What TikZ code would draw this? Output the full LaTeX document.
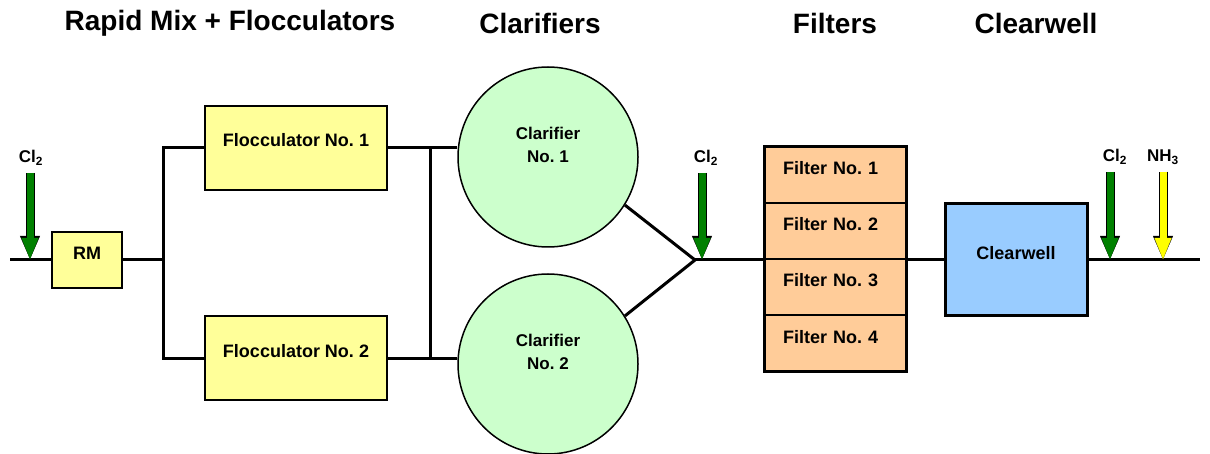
\documentclass[tikz,border=0pt]{standalone}
\usepackage{fontspec}
\setmainfont{Liberation Sans}
\frenchspacing
\usetikzlibrary{positioning,arrows.meta}
\definecolor{rmyellow}{RGB}{255,255,153}
\definecolor{clargreen}{RGB}{204,255,204}
\definecolor{filtorange}{RGB}{255,204,153}
\definecolor{wellblue}{RGB}{153,204,255}
\definecolor{clgreen}{RGB}{0,128,0}
\definecolor{nhyellow}{RGB}{255,255,0}
\tikzset{
  unit/.style={draw, line width=2pt, font=\fontsize{18}{21}\selectfont\bfseries,
    text height=12pt, text depth=12pt, inner sep=0pt},
  cell/.style={unit, line width=1.2pt, fill=filtorange, minimum width=142pt,
    minimum height=56pt, text width=104pt, outer sep=0pt},
  heading/.style={font=\fontsize{28}{32}\selectfont\bfseries},
  chem/.style={font=\fontsize{17}{20}\selectfont\bfseries},
  pipe/.style={line width=3pt},
  dose/.style={line width=7pt, draw=#1, shorten <=4pt,
    -{Triangle[width=17pt,length=21pt,line width=0.1pt]},
    preaction={draw=black, line width=9pt, shorten <=4pt,
      -{Triangle[width=20pt,length=23pt,line width=0.1pt]}}}
}
\begin{document}
\begin{tikzpicture}[x=1pt,y=-1pt]
  \useasboundingbox (0,0) rectangle (1210,454);
  % headings
  \node[heading] (hmix) at (230,23) {Rapid Mix + Flocculators};
  \node[heading] (hclar) at (540,23) {Clarifiers};
  \node[heading] (hfilt) at (835,23) {Filters};
  \node[heading] (hwell) at (1036,23) {Clearwell};
  % rapid mix and two flocculators
  \node[unit, fill=rmyellow, minimum width=70pt, minimum height=56pt] (rm) at (87,260) {RM};
  \node[unit, fill=rmyellow, minimum width=182pt, minimum height=84pt, text depth=14pt] (floc1) at (296,148) {Flocculator No. 1};
  \node[unit, fill=rmyellow, minimum width=182pt, minimum height=84pt, text depth=14pt] (floc2) at (296,358) {Flocculator No. 2};
  % two clarifiers
  \node[circle, draw, line width=1.5pt, fill=clargreen, minimum size=180pt,
    label={[chem, align=center, yshift=12pt]center:Clarifier\\[3pt]No. 1}] (clar1) at (548,157) {};
  \node[circle, draw, line width=1.5pt, fill=clargreen, minimum size=180pt,
    label={[chem, align=center, yshift=12pt]center:Clarifier\\[3pt]No. 2}] (clar2) at (548,364) {};
  % filter stack
  \node[cell] (filt1) at (835,175) {Filter No. 1};
  \node[cell, below=0pt of filt1] (filt2) {Filter No. 2};
  \node[cell, below=0pt of filt2] (filt3) {Filter No. 3};
  \node[cell, below=0pt of filt3] (filt4) {Filter No. 4};
  \draw[line width=3pt] (filt1.north west) rectangle (filt4.south east);
  % clearwell
  \node[unit, line width=3pt, fill=wellblue, minimum width=142pt, minimum height=112pt] (well) at (1016,260) {Clearwell};
  % pipes
  \coordinate (inlet) at (10,260);
  \coordinate (outlet) at (1200,260);
  \coordinate (split) at (163,260);
  \coordinate (merge1) at (430,148);
  \coordinate (merge2) at (430,358);
  \coordinate (join) at (695,260);
  \draw[pipe] (inlet) -- (rm);
  \draw[pipe] (rm) -- (split);
  \draw[pipe] (floc1) -| (split) |- (floc2);
  \draw[pipe] (floc1) -- (merge1) -- (merge1 -| clar1.west);
  \draw[pipe] (floc2) -- (merge2) -- (merge2 -| clar2.west);
  \draw[pipe] (merge1) -- (merge2);
  \draw[pipe] (clar1.-32) -- (join) -- (clar2.32);
  \draw[pipe] (join) -- (join -| filt1.west);
  \draw[pipe] (join -| filt1.east) -- (well);
  \draw[pipe] (well) -- (outlet);
  % chemical feeds
  \coordinate (dosea) at (30,259);
  \coordinate (doseb) at (702,259);
  \coordinate (dosec) at (1110,259);
  \coordinate (dosed) at (1163,259);
  \node[chem] (cla) at (31,158) {Cl\textsubscript{2}};
  \node[chem] (clb) at (706,158) {Cl\textsubscript{2}};
  \node[chem] (clc) at (1115,157) {Cl\textsubscript{2}};
  \node[chem] (nhd) at (1163,157) {NH\textsubscript{3}};
  \draw[dose=clgreen] (cla.south -| dosea) -- (dosea);
  \draw[dose=clgreen] (clb.south -| doseb) -- (doseb);
  \draw[dose=clgreen] (clc.south -| dosec) -- (dosec);
  \draw[dose=nhyellow] (nhd.south -| dosed) -- (dosed);
\end{tikzpicture}
\end{document}
